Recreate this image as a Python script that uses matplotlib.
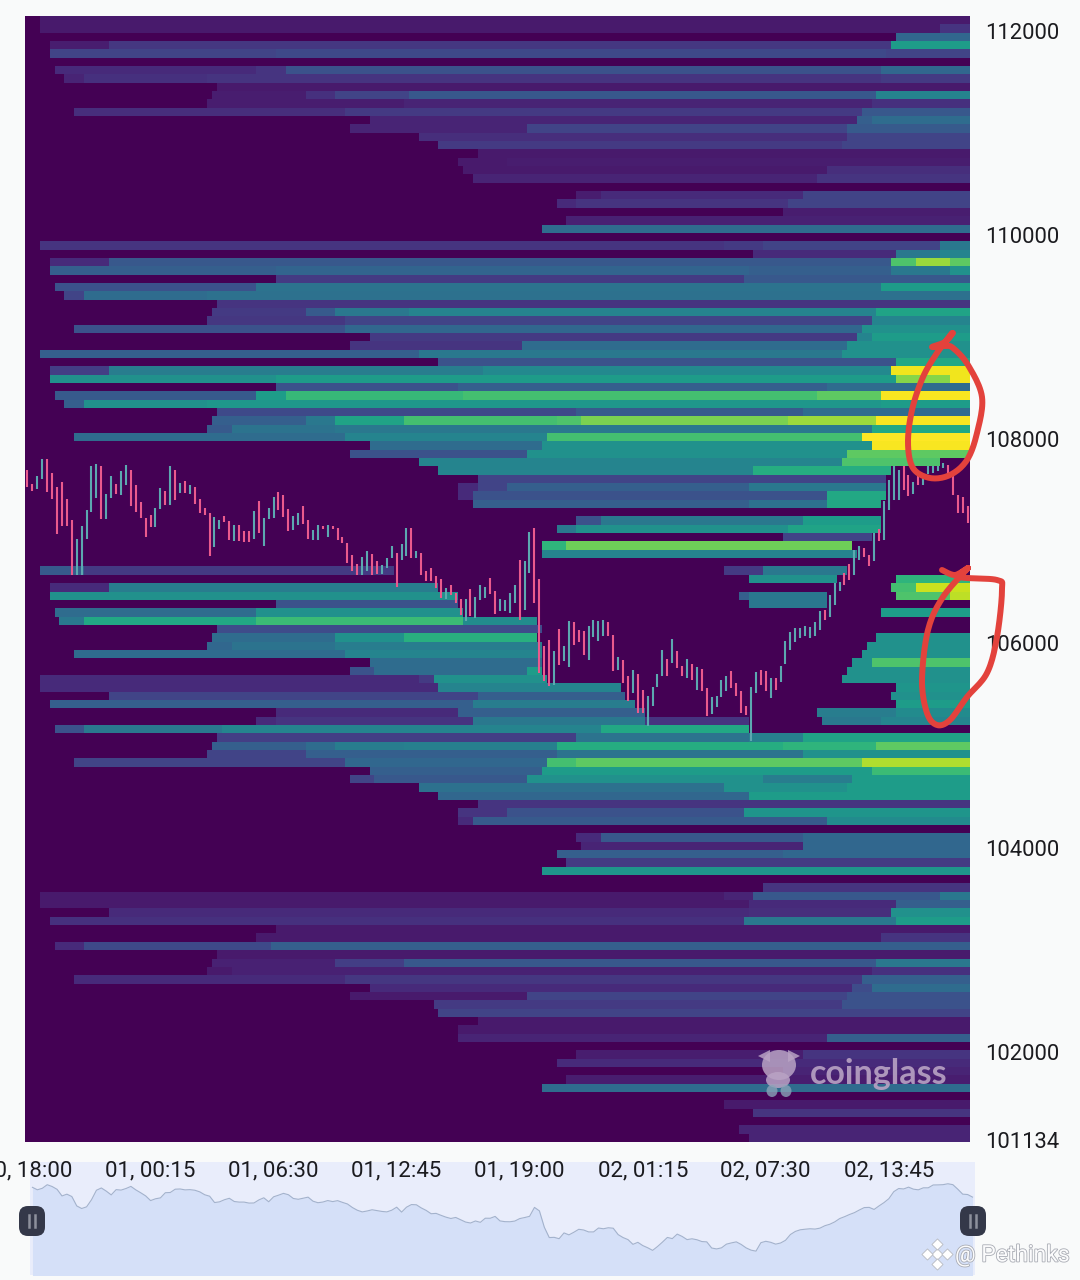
import numpy as np
import matplotlib
matplotlib.use("Agg")
import matplotlib.pyplot as plt
import matplotlib.patheffects as pe
from matplotlib.patches import FancyBboxPatch, Ellipse, Polygon

plt.rcParams['font.family'] = ['Roboto', 'DejaVu Sans']

# --- price axis / time axis ---
y_ticks = [112000, 110000, 108000, 106000, 104000, 102000, 101134]
x_tick_cols = [0.5, 25.5, 50.5, 75.5, 100.5, 125.5, 150.5, 175.5]
x_tick_labels = ["30, 18:00", "01, 00:15", "01, 06:30", "01, 12:45",
                 "01, 19:00", "02, 01:15", "02, 07:30", "02, 13:45"]
price_top = 112142
price_bottom = 101119
n_cols = 192

# --- candles, 15 min each ---
candle_high = [
    107694, 107560, 107641, 107805, 107805, 107668, 107530, 107579, 107416, 107210,
    107024, 107145, 107308, 107733, 107756, 107733, 107462, 107635, 107560, 107690,
    107743, 107700, 107550, 107380, 107227, 107259, 107325, 107521, 107495, 107733,
    107700, 107570, 107586, 107553, 107530, 107413, 107325, 107276, 107237, 107210,
    107250, 107194, 107161, 107161, 107096, 107103, 107292, 107390, 107227, 107325,
    107432, 107481, 107455, 107318, 107250, 107276, 107348, 107204, 107106, 107155,
    107152, 107155, 107145, 107129, 107041, 106982, 106868, 106779,
    106845, 106901, 106875, 106803, 106770, 106836, 106956, 106885, 106973, 107129,
    107129, 106901, 106885, 106712, 106738, 106663, 106630, 106542, 106574, 106493,
    106437, 106434, 106532, 106450, 106568, 106548, 106640, 106509, 106434, 106427,
    106493, 106574, 106819, 106809, 107087, 107129, 106633, 105970, 106036, 105921,
    106143, 105970, 106215, 106209, 106134, 106117, 106173, 106225, 106215, 106232,
    106205, 106085, 105863, 105840, 105677, 105742, 105703, 105546, 105487, 105569,
    105699, 105931, 105846, 106042, 105921, 105774, 105850, 105797, 105765, 105752,
    105559, 105471, 105481,
    105644, 105683, 105725, 105611, 105536, 105389, 105578, 105716, 105735, 105725,
    105660, 105660, 105774, 106019, 106111, 106150, 106150, 106166, 106160, 106205,
    106320, 106329, 106476, 106591, 106597, 106689, 106780, 106917, 106950, 106933,
    106868, 107080, 107120, 107391, 107603, 107733, 107701, 107733, 107652, 107580,
    107636, 107636, 107733, 107733, 107733, 107766, 107750, 107636, 107456, 107430,
    107342,
]
candle_low = [
    107530, 107488, 107514, 107609, 107478, 107413, 107073, 107152, 107145, 106672,
    106672, 106672, 107021, 107282, 107423, 107217, 107217, 107423, 107465, 107449,
    107550, 107341, 107282, 107227, 107041, 107139, 107139, 107315, 107357, 107357,
    107406, 107472, 107472, 107462, 107367, 107276, 107259, 106851, 106939, 107119,
    107184, 107008, 106998, 106998, 106992, 106992, 107024, 107080, 106956, 107217,
    107227, 107308, 107237, 107103, 107112, 107161, 107168, 107021, 107008, 107008,
    107119, 107041, 107119, 107008, 106982, 106786, 106704, 106672,
    106672, 106705, 106672, 106682, 106682, 106738, 106836, 106552, 106819, 106852,
    106836, 106836, 106672, 106607, 106607, 106542, 106444, 106434, 106476, 106395,
    106281, 106215, 106264, 106248, 106427, 106444, 106486, 106290, 106313, 106313,
    106297, 106395, 106225, 106323, 106689, 106395, 105709, 105628, 105579, 105595,
    105791, 105823, 105768, 105987, 106010, 105889, 105833, 106062, 106019, 106075,
    106068, 105726, 105735, 105611, 105432, 105513, 105317, 105317, 105187, 105383,
    105572, 105677, 105677, 105807, 105758, 105677, 105660, 105644, 105546, 105536,
    105285, 105307, 105376,
    105480, 105530, 105562, 105490, 105317, 105301, 105040, 105513, 105595, 105530,
    105464, 105546, 105627, 105800, 105931, 106010, 106052, 106068, 106052, 106075,
    106134, 106232, 106254, 106378, 106509, 106574, 106617, 106672, 106813, 106845,
    106760, 106803, 107000, 107015, 107309, 107407, 107407, 107505, 107440, 107466,
    107554, 107554, 107662, 107668, 107684, 107717, 107668, 107456, 107276, 107276,
    107178,
]
candle_dir = ("RRGGRRRRRRGGGGGRGGRGGRRRRRGGRGRGRGRRRRGGRRGRRRGRGGGRRRGGRRGGRGRRRRRR"
              "GGRRGGGRGGRGRRRRRGRRRGRGGGRRGGGGRGGRRRRGRGGRRRGGGGRRGRRGRRGGGGRGRRGRGRRGG"
              "GGRRRRGGRRGRGGGGGGGGGRGGGRRGGRRGRGGGGRRGRGGGGGRRRRR")

# --- liquidation heatmap: one row per price step from the top, (first column, level) ---
heat_rows = [
    [(3, .07)],
    [(3, .07), (186, .15)],
    [(177, .33)],
    [(5, .08), (17, .16), (176, .55)],
    [(5, .2), (51, .22), (175, .2)],
    [],
    [(6, .12), (47, .15), (53, .25), (174, .33)],
    [(8, .1), (12, .14), (37, .15), (174, .17)],
    [(39, .07)],
    [(38, .08), (57, .14), (63, .2), (78, .27), (173, .45)],
    [(37, .08), (77, .1), (172, .14)],
    [(10, .13), (65, .17), (170, .27)],
    [(70, .1), (169, .3), (172, .35)],
    [(66, .1), (102, .2), (167, .28)],
    [(80, .13), (167, .2)],
    [(84, .17), (166, .2)],
    [(92, .07)],
    [(88, .07), (98, .08)],
    [(89, .07), (163, .13)],
    [(91, .1), (161, .15)],
    [],
    [(112, .08), (117, .12), (158, .2)],
    [(108, .12), (112, .15), (155, .2)],
    [(154, .08)],
    [(110, .09)],
    [(105, .35)],
    [],
    [(3, .15), (142, .17), (150, .2), (186, .4)],
    [(148, .12), (177, .4), (186, .45)],
    [(5, .12), (17, .27), (147, .27), (176, .72), (181, .85), (188, .75)],
    [(5, .3), (51, .32), (147, .3), (176, .4), (188, .5)],
    [(51, .17), (146, .27)],
    [(6, .25), (47, .38), (174, .55)],
    [(8, .2), (12, .35), (37, .37)],
    [(39, .15)],
    [(38, .17), (57, .28), (63, .4), (78, .45), (173, .58)],
    [(37, .16), (65, .2), (172, .45)],
    [(10, .25), (65, .33), (170, .5)],
    [(70, .17), (169, .45), (172, .55)],
    [(66, .15), (101, .35), (167, .5)],
    [(3, .3), (80, .4), (166, .5)],
    [(84, .25), (177, .6)],
    [(5, .18), (17, .42), (93, .47), (176, .98)],
    [(5, .5), (51, .55), (177, .82), (188, .98)],
    [(51, .25), (88, .3), (163, .35)],
    [(6, .28), (47, .55), (53, .67), (89, .7), (161, .75), (174, .99)],
    [(8, .3), (12, .5), (37, .53), (174, .55)],
    [(39, .22), (112, .28), (158, .35)],
    [(38, .3), (57, .4), (63, .58), (77, .7), (108, .72), (113, .8), (155, .85), (173, .99)],
    [(37, .28), (42, .38), (63, .4), (172, .6)],
    [(10, .35), (65, .45), (106, .7), (170, 1.0)],
    [(70, .35), (105, .5), (172, .99)],
    [(66, .25), (102, .5), (167, .75)],
    [(80, .45), (166, .72), (186, 0)],
    [(84, .45), (148, .62), (176, 0)],
    [(92, .2), (175, 0)],
    [(88, .12), (92, .2), (98, .3), (147, .4), (175, 0)],
    [(88, .12), (91, .25), (163, .6), (175, 0)],
    [(91, .3), (147, .37), (163, .6), (174, 0)],
    [],
    [(112, .25), (117, .4), (158, .55), (174, 0)],
    [(108, .4), (112, .5), (155, .58), (174, 0)],
    [(154, .2), (172, 0)],
    [(105, .65), (110, .78), (168, 0)],
    [(105, .45), (169, 0)],
    [],
    [(3, .28), (12, .17), (75, 0), (142, .17), (150, .4), (167, 0)],
    [(147, .5), (165, 0), (177, .65)],
    [(5, .12), (17, .42), (84, 0), (176, .7), (181, .92)],
    [(5, .5), (51, .5), (88, 0), (145, .3), (147, .4), (163, 0), (177, .72), (188, .9)],
    [(51, .25), (88, 0), (147, .4), (163, 0)],
    [(6, .35), (47, .5), (89, 0), (174, .55)],
    [(7, .4), (12, .6), (47, .68), (89, .48), (104, 0)],
    [(39, .23), (105, 0)],
    [(38, .35), (63, .5), (77, .63), (104, 0), (173, .5)],
    [(37, .33), (42, .38), (63, .42), (105, 0), (171, .5)],
    [(10, .35), (65, .45), (105, 0), (170, .5)],
    [(70, .35), (105, 0), (168, .5), (172, .72)],
    [(66, .25), (71, .35), (102, .55), (105, 0), (167, .5)],
    [(3, .12), (80, .17), (83, .5), (106, 0), (166, .5)],
    [(3, .12), (84, .45), (121, 0), (177, .52)],
    [(17, .2), (92, .3), (122, 0), (176, .5)],
    [(5, .3), (91, .42), (124, 0), (177, .55)],
    [(51, .12), (88, .3), (126, 0), (161, .42), (177, .48)],
    [(47, .12), (51, .15), (91, .4), (126, .15), (147, 0), (162, .4), (174, .45)],
    [(6, .25), (12, .4), (40, .45), (117, .6), (147, 0)],
    [(39, .18), (112, .38), (147, .43), (158, .58)],
    [(38, .3), (57, .35), (63, .42), (77, .43), (108, .62), (154, .65), (173, .75)],
    [(37, .2), (57, .3), (108, .38), (158, .5)],
    [(10, .2), (65, .33), (106, .7), (112, .75), (170, .88)],
    [(70, .3), (105, .55), (172, .68)],
    [(66, .2), (71, .27), (102, .5), (150, .42), (168, .55)],
    [(80, .37), (142, .5), (167, .55)],
    [(84, .33), (147, .55)],
    [(92, .15)],
    [(88, .15), (98, .25), (146, .52)],
    [(88, .12), (91, .28), (163, .48)],
    [],
    [(112, .12), (117, .27), (158, .33)],
    [(113, .1), (158, .33)],
    [(108, .3), (154, .33)],
    [(110, .17)],
    [(105, .52)],
    [],
    [(150, .15)],
    [(3, .07), (142, .1), (148, .27), (186, .4)],
    [(3, .07), (147, .12), (177, .3)],
    [(17, .12), (147, .13), (176, .5)],
    [(5, .14), (146, .4), (177, .55)],
    [(51, .07)],
    [(47, .07), (174, .15)],
    [(6, .12), (12, .22), (50, .3)],
    [(39, .07)],
    [(38, .09), (63, .18), (77, .27), (173, .4)],
    [(37, .07), (42, .09), (172, .14)],
    [(10, .12), (65, .16), (170, .3)],
    [(70, .12), (168, .23), (172, .35)],
    [(66, .07), (102, .2), (167, .25)],
    [(83, .17), (166, .25)],
    [(84, .2)],
    [(92, .07)],
    [(88, .07)],
    [(88, .1), (163, .3)],
    [],
    [(112, .08), (158, .15)],
    [(108, .12)],
    [(154, .1)],
    [(110, .08)],
    [(105, .35)],
    [],
    [(142, .07)],
    [(148, .15)],
    [],
    [(145, .1)],
    [(147, .1)],
]

# red freehand circles drawn on the screenshot (image pixels)
stroke_top_x = [953, 945, 932, 945, 953, 968, 982, 977, 967, 950, 930, 913, 908, 912, 923, 937, 952]
stroke_top_y = [333, 342, 347, 346, 348, 365, 397, 433, 460, 475, 478, 468, 443, 410, 377, 353, 333]
stroke_low_x = [942, 955, 968, 960, 997, 1002, 997, 987, 967, 950, 937, 927, 922, 928, 943, 968]
stroke_low_y = [570, 575, 568, 577, 580, 590, 637, 673, 697, 720, 725, 713, 680, 630, 597, 568]


def smooth(xs, ys, steps=12):
    # Catmull-Rom, solo para el trazo a mano
    pts = np.column_stack([xs, ys]).astype(float)
    pts = np.vstack([pts[0], pts, pts[-1]])
    out = []
    for i in range(1, len(pts) - 2):
        p0, p1, p2, p3 = pts[i - 1], pts[i], pts[i + 1], pts[i + 2]
        for t in np.linspace(0, 1, steps, endpoint=False):
            out.append(0.5 * (2 * p1 + (p2 - p0) * t + (2 * p0 - 5 * p1 + 4 * p2 - p3) * t ** 2
                              + (3 * p1 - p0 - 3 * p2 + p3) * t ** 3))
    out.append(pts[-2])
    return np.array(out)


W, H = 1080, 1280
fig = plt.figure(figsize=(W / 100, H / 100), dpi=100, facecolor='#f9fafa')


def axes_px(left, top, right, bottom, **kw):
    return fig.add_axes([left / W, 1 - bottom / H, (right - left) / W, (bottom - top) / H], **kw)


# --- overview strip, follows the middle of each candle ---
mids = [(h + l) / 2 for h, l in zip(candle_high, candle_low)]
ov = axes_px(30, 1162, 975, 1275, zorder=1)
ov.fill_between(np.arange(n_cols) + 0.5, mids, 100000, color='#d5e0f8', lw=0)
ov.plot(np.arange(n_cols) + 0.5, mids, color='#a3b2cc', lw=0.8)
ov.set_xlim(0, n_cols)
ov.set_ylim(104448, 108527)
ov.set_xticks([])
ov.set_yticks([])
ov.set_facecolor('#e9edfb')
for s in ov.spines.values():
    s.set_visible(False)

# --- heatmap ---
ax = axes_px(25, 16, 970, 1142, zorder=3)
grid = np.zeros((len(heat_rows), n_cols))
for k, row in enumerate(heat_rows):
    for j, (col, level) in enumerate(row):
        end = row[j + 1][0] if j + 1 < len(row) else n_cols
        grid[k, col:end] = level
edges_y = np.linspace(price_top, price_bottom, len(heat_rows) + 1)
ax.pcolormesh(np.arange(n_cols + 1), edges_y, grid, cmap='viridis', vmin=0, vmax=1,
              shading='flat', antialiased=False)

# --- candles ---
candle_col = {'R': '#ea5a8d', 'G': '#5ca8b0'}
ax.vlines(np.arange(n_cols) + 0.5, candle_low, candle_high,
          colors=[candle_col[d] for d in candle_dir], lw=1.5)

ax.set_xlim(0, n_cols)
ax.set_ylim(price_bottom, price_top)
ax.yaxis.tick_right()
ax.set_yticks(y_ticks)
ax.set_yticklabels([str(v) for v in y_ticks], fontsize=15.8, color='#1b1b1f')
ax.set_xticks(x_tick_cols)
ax.set_xticklabels(x_tick_labels, fontsize=16, color='#1b1b1f')
ax.tick_params(axis='y', length=0, pad=11)
ax.tick_params(axis='x', length=0, pad=13)
for s in ax.spines.values():
    s.set_visible(False)

# --- overlay in image pixels: logo, handles, watermark, red strokes ---
top = fig.add_axes([0, 0, 1, 1], zorder=10)
top.set_xlim(0, W)
top.set_ylim(H, 0)
top.axis('off')

for hx in (32, 973):
    top.add_patch(FancyBboxPatch((hx - 9, 1210), 18, 22, boxstyle='round,pad=4,rounding_size=9',
                                 fc='#343849', ec='none'))
    top.plot([hx - 3, hx - 3], [1215, 1227], color='#8d909c', lw=1.8)
    top.plot([hx + 3, hx + 3], [1215, 1227], color='#8d909c', lw=1.8)

wm = '#b9a3c4'
top.add_patch(Ellipse((779, 1065), 34, 30, fc=wm, ec='none', alpha=0.85))
top.add_patch(Ellipse((778, 1080), 24, 16, fc=wm, ec='none', alpha=0.85))
top.add_patch(Ellipse((772, 1091), 11, 12, fc='#8aa3b8', ec='none', alpha=0.8))
top.add_patch(Ellipse((786, 1091), 11, 12, fc='#8aa3b8', ec='none', alpha=0.8))
top.add_patch(Polygon([[758, 1056], [770, 1050], [770, 1062]], fc=wm, ec='none', alpha=0.85))
top.add_patch(Polygon([[800, 1056], [788, 1050], [788, 1062]], fc=wm, ec='none', alpha=0.85))
top.text(810, 1074, 'coinglass', fontsize=24.5, fontweight='bold', color=wm, alpha=0.9,
         va='center', ha='left', family=['Lato', 'DejaVu Sans'])

for dx, dy in [(0, 0), (-10, 0), (10, 0), (0, -10), (0, 10)]:
    top.scatter(937 + dx, 1254 + dy, marker='D', s=32, fc='#ffffff', ec='#b8bbc2', lw=0.6)
top.text(955, 1255, '@ Pethinks', fontsize=16.5, color='#fbfbfc', va='center', ha='left',
         path_effects=[pe.withStroke(linewidth=1.2, foreground='#a9acb4')])

for xs, ys in [(stroke_top_x, stroke_top_y), (stroke_low_x, stroke_low_y)]:
    c = smooth(xs, ys)
    top.plot(c[:, 0], c[:, 1], color='#e3423c', lw=4.3, solid_capstyle='round')

fig.savefig('out.png', dpi=100, facecolor=fig.get_facecolor())
